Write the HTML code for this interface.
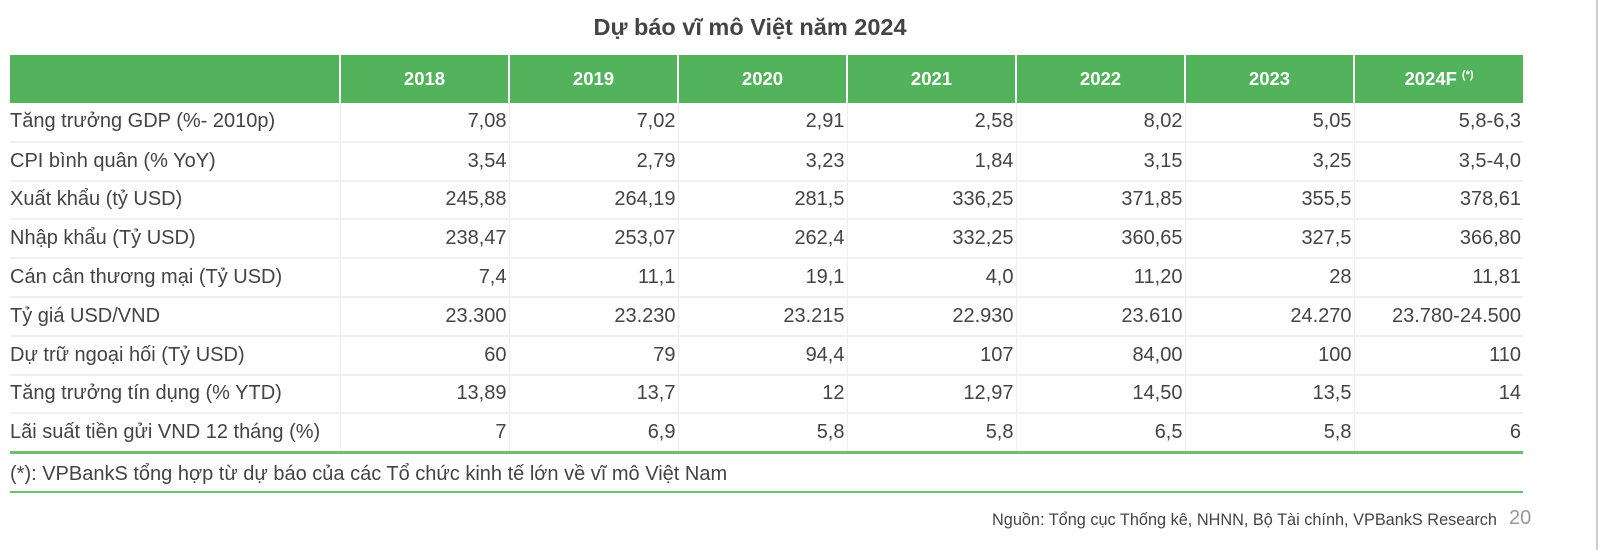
<!DOCTYPE html>
<html><head><meta charset="utf-8"><style>
body{margin:0;width:1600px;height:550px;background:#fff;font-family:"Liberation Sans",Arial,sans-serif;position:relative;overflow:hidden;color:#444}
#title{position:absolute;left:0;width:1500px;top:14px;text-align:center;font-weight:bold;font-size:23.5px;color:#444}
table{position:absolute;left:10px;top:55px;border-collapse:collapse;width:1513px;table-layout:fixed}
th{background:#52b35c;color:#fff;font-weight:bold;font-size:18.5px;height:48px;border-left:2px solid #fff;text-align:center;padding:0}
th:first-child{border-left:none}
td{height:38.8px;padding:0 2px;font-size:20px;text-align:right;border-bottom:2px solid #f0f0f0;border-left:1px solid #eee;box-sizing:border-box;white-space:nowrap}
td:first-child{text-align:left;border-left:none;padding-left:0}
tr:last-child td{border-bottom:3px solid #6cc070}
sup{font-size:11px;vertical-align:7px;margin-left:5px}
#note{position:absolute;left:10px;top:463px;font-size:20px}
#line2{position:absolute;left:10px;top:491px;width:1513px;height:2px;background:#6cc070}
#src{position:absolute;right:103px;top:511px;font-size:16.3px}
#pg{position:absolute;left:1509px;top:507px;font-size:20px;color:#999}
#edge{position:absolute;left:1596px;top:0;width:2px;height:550px;background:#ccc}
</style></head><body>
<div id="title">Dự báo vĩ mô Việt năm 2024</div>
<table>
<colgroup><col style="width:330px"><col span="7"></colgroup>
<tr><th></th><th>2018</th><th>2019</th><th>2020</th><th>2021</th><th>2022</th><th>2023</th><th>2024F<sup>(*)</sup></th></tr>
<tr><td>Tăng trưởng GDP (%- 2010p)</td><td>7,08</td><td>7,02</td><td>2,91</td><td>2,58</td><td>8,02</td><td>5,05</td><td>5,8-6,3</td></tr>
<tr><td>CPI bình quân (% YoY)</td><td>3,54</td><td>2,79</td><td>3,23</td><td>1,84</td><td>3,15</td><td>3,25</td><td>3,5-4,0</td></tr>
<tr><td>Xuất khẩu (tỷ USD)</td><td>245,88</td><td>264,19</td><td>281,5</td><td>336,25</td><td>371,85</td><td>355,5</td><td>378,61</td></tr>
<tr><td>Nhập khẩu (Tỷ USD)</td><td>238,47</td><td>253,07</td><td>262,4</td><td>332,25</td><td>360,65</td><td>327,5</td><td>366,80</td></tr>
<tr><td>Cán cân thương mại (Tỷ USD)</td><td>7,4</td><td>11,1</td><td>19,1</td><td>4,0</td><td>11,20</td><td>28</td><td>11,81</td></tr>
<tr><td>Tỷ giá USD/VND</td><td>23.300</td><td>23.230</td><td>23.215</td><td>22.930</td><td>23.610</td><td>24.270</td><td>23.780-24.500</td></tr>
<tr><td>Dự trữ ngoại hối (Tỷ USD)</td><td>60</td><td>79</td><td>94,4</td><td>107</td><td>84,00</td><td>100</td><td>110</td></tr>
<tr><td>Tăng trưởng tín dụng (% YTD)</td><td>13,89</td><td>13,7</td><td>12</td><td>12,97</td><td>14,50</td><td>13,5</td><td>14</td></tr>
<tr><td>Lãi suất tiền gửi VND 12 tháng (%)</td><td>7</td><td>6,9</td><td>5,8</td><td>5,8</td><td>6,5</td><td>5,8</td><td>6</td></tr>
</table>
<div id="note">(*): VPBankS tổng hợp từ dự báo của các Tổ chức kinh tế lớn về vĩ mô Việt Nam</div>
<div id="line2"></div>
<div id="src">Nguồn: Tổng cục Thống kê, NHNN, Bộ Tài chính, VPBankS Research</div>
<div id="pg">20</div>
<div id="edge"></div>
</body></html>
